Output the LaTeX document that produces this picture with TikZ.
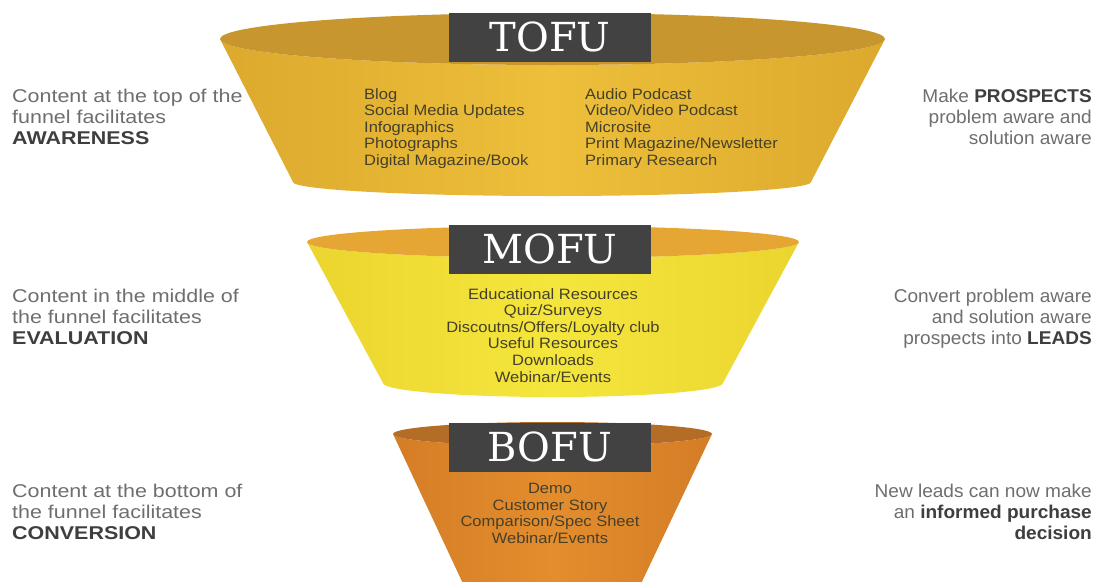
\documentclass[tikz,border=0pt]{standalone}
\usepackage{fontspec}
\setmainfont{Liberation Sans}
\newfontfamily\slabfont{DejaVu Serif}
\newfontfamily\leftfont[FakeStretch=1.16]{Liberation Sans}
\newfontfamily\rightfont[FakeStretch=1.03]{Liberation Sans}
\newfontfamily\listfont[FakeStretch=1.1]{Liberation Sans}
\usetikzlibrary{positioning}
\definecolor{tofuBody}{HTML}{EDBF3A}
\definecolor{tofuEdge}{HTML}{DCA92D}
\definecolor{tofuInner}{HTML}{C7962E}
\definecolor{mofuBody}{HTML}{F4E63C}
\definecolor{mofuEdge}{HTML}{EBD52F}
\definecolor{mofuInner}{HTML}{E6A633}
\definecolor{bofuBody}{HTML}{E38D2E}
\definecolor{bofuEdge}{HTML}{D47D26}
\definecolor{bofuInner}{HTML}{B46D27}
\definecolor{labelGray}{HTML}{424242}
\definecolor{sideGray}{HTML}{6E6E6E}
\definecolor{sideDark}{HTML}{3E3E3E}
\definecolor{listText}{HTML}{45402A}
\tikzset{
  stage label/.style={fill=labelGray, text=white, minimum width=202pt,
    minimum height=49pt, inner sep=0pt, font=\slabfont\fontsize{40}{40}\selectfont},
  side text/.style={text=sideGray, inner sep=0pt},
  left text/.style={side text, align=left, anchor=north west,
    font=\leftfont\fontsize{18.5}{21}\selectfont},
  right text/.style={side text, align=right, anchor=north east,
    font=\rightfont\fontsize{18.5}{21}\selectfont},
  list text/.style={text=listText, inner sep=0pt,
    font=\listfont\fontsize{15}{16.6}\selectfont},
}
\newcommand{\hl}[1]{\textcolor{sideDark}{\textbf{#1}}}

\begin{document}
\begin{tikzpicture}[x=1pt,y=-1pt]
\useasboundingbox (0,0) rectangle (1097,581);
\clip (0,0) rectangle (1097,581);

% TOFU
\shade[left color=tofuEdge, right color=tofuEdge, middle color=tofuBody]
  (220,39) -- (293,182) arc[start angle=180, end angle=360, x radius=259pt, y radius=14pt]
  -- (885,39) arc[start angle=0, end angle=-180, x radius=332.5pt, y radius=26pt] -- cycle;
\fill[tofuInner] (552.5,39) ellipse[x radius=332.5pt, y radius=26pt];
\node[stage label] (tofu) at (550,37) {TOFU};

% MOFU
\shade[left color=mofuEdge, right color=mofuEdge, middle color=mofuBody]
  (307,242) -- (383,383) arc[start angle=180, end angle=360, x radius=170pt, y radius=14pt]
  -- (799,242) arc[start angle=0, end angle=-180, x radius=246pt, y radius=16pt] -- cycle;
\fill[mofuInner] (553,242) ellipse[x radius=246pt, y radius=16pt];
\node[stage label] (mofu) at (550,249) {MOFU};

% BOFU
\shade[left color=bofuEdge, right color=bofuEdge, middle color=bofuBody]
  (393,434) -- (466,590) -- (638,590) -- (712,434)
  arc[start angle=0, end angle=-180, x radius=159.5pt, y radius=12pt] -- cycle;
\fill[bofuInner] (552.5,434) ellipse[x radius=159.5pt, y radius=12pt];
\node[stage label] (bofu) at (550,447) {BOFU};

% funnel contents
\node[list text, align=left, anchor=north west] (tofuA) at (364,88)
  {Blog\\Social Media Updates\\Infographics\\Photographs\\Digital Magazine/Book};
\node[list text, align=left, anchor=north west] (tofuB) at (585,88)
  {Audio Podcast\\Video/Video Podcast\\Microsite\\Print Magazine/Newsletter\\Primary Research};
\node[list text, align=center, anchor=north] (mofuList) at (553,288)
  {Educational Resources\\Quiz/Surveys\\Discoutns/Offers/Loyalty club\\Useful Resources\\Downloads\\Webinar/Events};
\node[list text, align=center, anchor=north] (bofuList) at (550,483)
  {Demo\\Customer Story\\Comparison/Spec Sheet\\Webinar/Events};

% left side
\node[left text] (awareness) at (12,89)
  {Content at the top of the\\funnel facilitates\\\hl{AWARENESS}};
\node[left text] (evaluation) at (12,289)
  {Content in the middle of\\the funnel facilitates\\\hl{EVALUATION}};
\node[left text] (conversion) at (12,484)
  {Content at the bottom of\\the funnel facilitates\\\hl{CONVERSION}};

% right side
\node[right text] (prospects) at (1092,89)
  {Make \hl{PROSPECTS}\\problem aware and\\solution aware};
\node[right text] (leads) at (1092,289)
  {Convert problem aware\\and solution aware\\prospects into \hl{LEADS}};
\node[right text] (decision) at (1092,484)
  {New leads can now make\\an \hl{informed purchase}\\\hl{decision}};
\end{tikzpicture}
\end{document}
